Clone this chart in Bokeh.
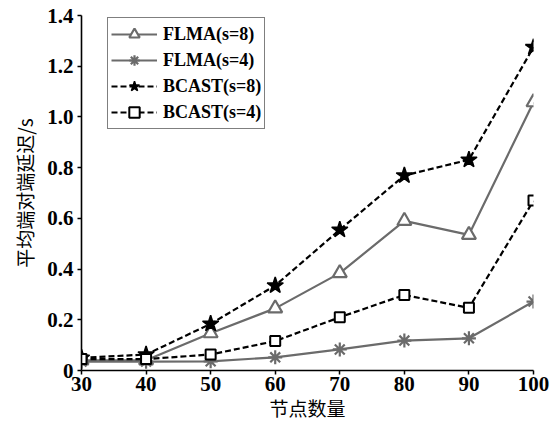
from bokeh.plotting import figure
from bokeh.embed import file_html
from bokeh.resources import INLINE
from bokeh.models import Legend, LegendItem, FixedTicker, Range1d, PrintfTickFormatter

nodes = [30, 40, 50, 60, 70, 80, 90, 100]
flma_s8 = [0.040, 0.040, 0.147, 0.245, 0.384, 0.590, 0.535, 1.058]
flma_s4 = [0.035, 0.035, 0.036, 0.052, 0.083, 0.118, 0.127, 0.272]
bcast_s8 = [0.050, 0.063, 0.184, 0.335, 0.555, 0.769, 0.831, 1.275]
bcast_s4 = [0.045, 0.045, 0.063, 0.116, 0.210, 0.298, 0.247, 0.670]
labels = ["FLMA(s=8)", "FLMA(s=4)", "BCAST(s=8)", "BCAST(s=4)"]
y_ticks = [0, 0.2, 0.4, 0.6, 0.8, 1.0, 1.2, 1.4]
x_ticks = [30, 40, 50, 60, 70, 80, 90, 100]

GRAY = "#6b6b6b"
SERIF = "Liberation Serif"
CJK = "Noto Sans CJK SC"

p = figure(frame_width=452, frame_height=355, output_backend="svg", toolbar_location=None,
           x_range=Range1d(30, 100), y_range=Range1d(0, 1.4),
           min_border_left=81, min_border_right=19, min_border_top=15, min_border_bottom=51)
p.outline_line_color = None
p.xgrid.visible = False
p.ygrid.visible = False

r1l = p.line(nodes, flma_s8, line_color=GRAY, line_width=2.2)
r1m = p.scatter(nodes, flma_s8, marker="triangle", size=14, fill_color="white",
                line_color=GRAY, line_width=2.2)
r2l = p.line(nodes, flma_s4, line_color=GRAY, line_width=2.2)
r2m = p.scatter(nodes, flma_s4, marker="asterisk", size=14, line_color=GRAY, line_width=2.2)
r3l = p.line(nodes, bcast_s8, line_color="black", line_width=2.2, line_dash="6 3")
r3m = p.scatter(nodes, bcast_s8, marker="star", size=17, fill_color="black",
                line_color="black", line_width=1.5)
r4l = p.line(nodes, bcast_s4, line_color="black", line_width=2.2, line_dash="6 3")
r4m = p.scatter(nodes, bcast_s4, marker="square", size=10, fill_color="white",
                line_color="black", line_width=2)

for ax in (p.xaxis[0], p.yaxis[0]):
    ax.axis_line_width = 1.6
    ax.axis_line_color = "black"
    ax.major_tick_line_width = 1.5
    ax.major_tick_line_color = "black"
    ax.major_tick_out = 4
    ax.major_tick_in = 0
    ax.minor_tick_line_color = None
    ax.major_label_text_font = SERIF
    ax.major_label_text_font_style = "bold"
    ax.major_label_text_font_size = "21px"
    ax.major_label_text_color = "black"
    ax.axis_label_text_font = CJK
    ax.axis_label_text_font_style = "normal"
    ax.axis_label_text_font_size = "19px"
    ax.axis_label_text_color = "black"

p.xaxis.ticker = FixedTicker(ticks=x_ticks)
p.yaxis.ticker = FixedTicker(ticks=y_ticks)
p.yaxis.formatter = PrintfTickFormatter(format="%.1f")
p.yaxis.major_label_overrides = {0: "0"}
p.xaxis.axis_label = "节点数量"
p.yaxis.axis_label = "平均端对端延迟/s"
p.xaxis.axis_label_standoff = 0
p.yaxis.axis_label_standoff = 6
p.xaxis.major_label_standoff = 2
p.yaxis.major_label_standoff = 4

legend = Legend(items=[
    LegendItem(label=labels[0], renderers=[r1l, r1m]),
    LegendItem(label=labels[1], renderers=[r2l, r2m]),
    LegendItem(label=labels[2], renderers=[r3l, r3m]),
    LegendItem(label=labels[3], renderers=[r4l, r4m]),
], location=(26, 241))
legend.label_text_font = SERIF
legend.label_text_font_style = "bold"
legend.label_text_font_size = "18px"
legend.label_text_color = "black"
legend.border_line_color = "black"
legend.border_line_width = 1.5
legend.glyph_width = 46
legend.glyph_height = 26
legend.label_height = 26
legend.spacing = 0
legend.padding = 3
legend.margin = 0
legend.label_standoff = 6
p.add_layout(legend)

open("out.html", "w").write(file_html(p, INLINE))
